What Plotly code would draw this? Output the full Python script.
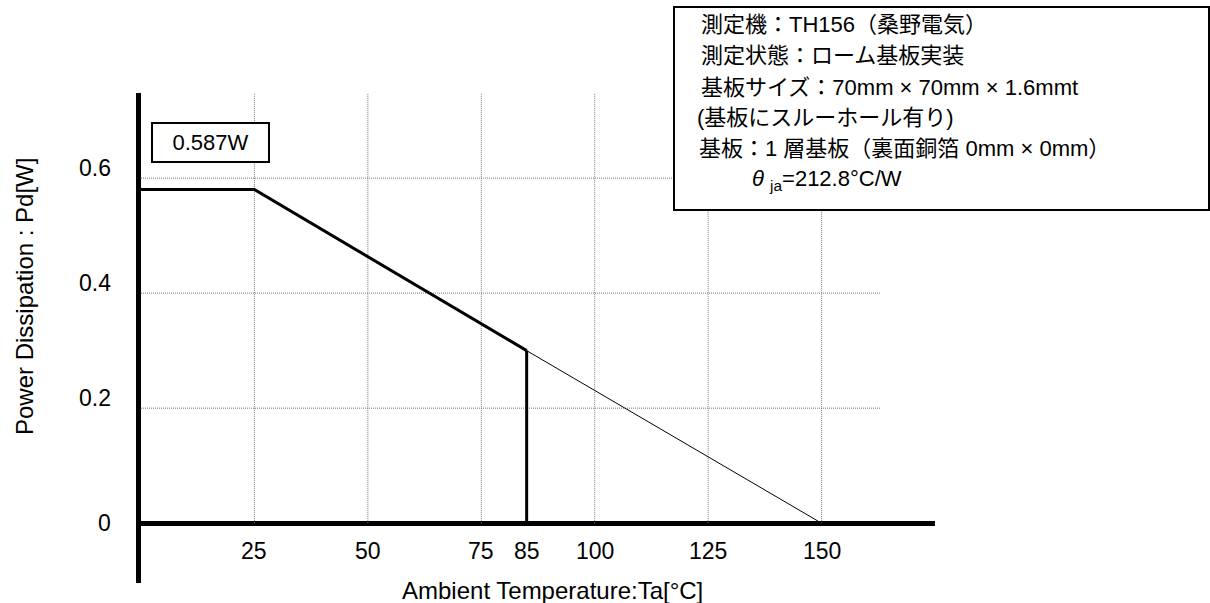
import plotly.graph_objects as go

# ---------------- data ----------------
temps_rated = [0, 25, 85]          # °C
pd_rated = [0.58, 0.58, 0.30]      # W
temps_ext = [85, 150]
pd_ext = [0.30, 0.0]
knee_temp = 85
knee_pd = 0.30
x_ticks = [25, 50, 75, 85, 100, 125, 150]
x_grid = [25, 50, 75, 100, 125, 150]
y_ticks = [0, 0.2, 0.4, 0.6]
y_tick_text = ["0", "0.2", "0.4", "0.6"]
y_grid = [0.2, 0.4, 0.6]
x_range = [0, 175]
y_range = [-0.104, 0.748]
grid_x_end = 163
rated_label = "0.587W"
x_title = "Ambient Temperature:Ta[°C]"
y_title = "Power Dissipation : Pd[W]"
info_lines = [
    "測定機：TH156（桑野電気）",
    "測定状態：ローム基板実装",
    "基板サイズ：70mm × 70mm × 1.6mmt",
    "(基板にスルーホール有り)",
    "基板：1 層基板（裏面銅箔 0mm × 0mm）",
    "<i>θ</i> <sub>ja</sub>=212.8°C/W",
]

# ---------------- layout helpers (pixels) ----------------
W, H = 1210, 603
L, R, T, B = 141, 935, 93, 583
FONT = "Liberation Sans, Arial, Noto Sans CJK JP, sans-serif"


def xp(p):
    return (p - L) / (R - L)


def yp(p):
    return (B - p) / (B - T)


fig = go.Figure()

# grid lines (dotted)
gx, gy = [], []
for v in x_grid:
    gx += [v, v, None]
    gy += [0, y_range[1], None]
for v in y_grid:
    gx += [0, grid_x_end, None]
    gy += [v, v, None]
fig.add_trace(go.Scatter(x=gx, y=gy, mode="lines",
                         line=dict(color="#7a7a7a", width=1, dash="1px,1px"),
                         hoverinfo="skip", showlegend=False))

# derating curve
fig.add_trace(go.Scatter(x=temps_ext, y=pd_ext, mode="lines",
                         line=dict(color="black", width=1), showlegend=False))
fig.add_trace(go.Scatter(x=temps_rated, y=pd_rated, mode="lines",
                         line=dict(color="black", width=3), showlegend=False))
fig.add_trace(go.Scatter(x=[knee_temp, knee_temp], y=[knee_pd, 0], mode="lines",
                         line=dict(color="black", width=3), showlegend=False))

ann = []
for v in x_ticks:
    ann.append(dict(x=v, y=0, xref="x", yref="y", xanchor="center", yanchor="middle",
                    yshift=-28, text=str(v), showarrow=False,
                    font=dict(size=23, color="black", family=FONT)))
for v, t in zip(y_ticks, y_tick_text):
    ann.append(dict(x=0, y=v, xref="x", yref="y", xanchor="right", yanchor="middle",
                    xshift=-28, yshift=10 if v > 0 else 0, text=t, showarrow=False,
                    font=dict(size=23, color="black", family=FONT)))
ann.append(dict(x=xp(552), y=yp(590), xref="paper", yref="paper",
                xanchor="center", yanchor="middle", text=x_title,
                showarrow=False, font=dict(size=24, color="black", family=FONT)))
ann.append(dict(x=xp(24), y=yp(297), xref="paper", yref="paper",
                xanchor="center", yanchor="middle", text=y_title,
                textangle=-90, showarrow=False,
                font=dict(size=24, color="black", family=FONT)))
ann.append(dict(x=xp(210.5), y=yp(142), xref="paper", yref="paper",
                xanchor="center", yanchor="middle", text=rated_label,
                showarrow=False, width=115, height=37, borderpad=0,
                bordercolor="black", borderwidth=2, bgcolor="white",
                font=dict(size=22, color="black", family=FONT)))

info_x = [699, 699, 699, 695, 697, 750]
info_y = [25, 56, 87, 117, 148, 180]
for t, lx, ly in zip(info_lines, info_x, info_y):
    ann.append(dict(x=xp(lx), y=yp(ly), xref="paper", yref="paper", xanchor="left",
                    yanchor="middle", text=t, showarrow=False,
                    font=dict(size=22, color="black", family=FONT)))

fig.update_layout(
    width=W, height=H,
    margin=dict(l=L, r=W - R, t=T, b=H - B, pad=0),
    paper_bgcolor="white", plot_bgcolor="white",
    showlegend=False,
    xaxis=dict(range=x_range, showgrid=False, zeroline=False, showline=False,
               showticklabels=False, ticks="", fixedrange=True),
    yaxis=dict(range=y_range, showgrid=False, zeroline=True, zerolinecolor="black",
               zerolinewidth=5, showline=True, linecolor="black", linewidth=5,
               showticklabels=False, ticks="", fixedrange=True),
    shapes=[dict(type="rect", xref="paper", yref="paper",
                 x0=xp(674), x1=xp(1209), y0=yp(210), y1=yp(7),
                 line=dict(color="black", width=2), fillcolor="white", layer="above")],
    annotations=ann,
)

fig.write_html("out.html", config={"displayModeBar": False},
               post_script="document.body.style.margin='0';")
